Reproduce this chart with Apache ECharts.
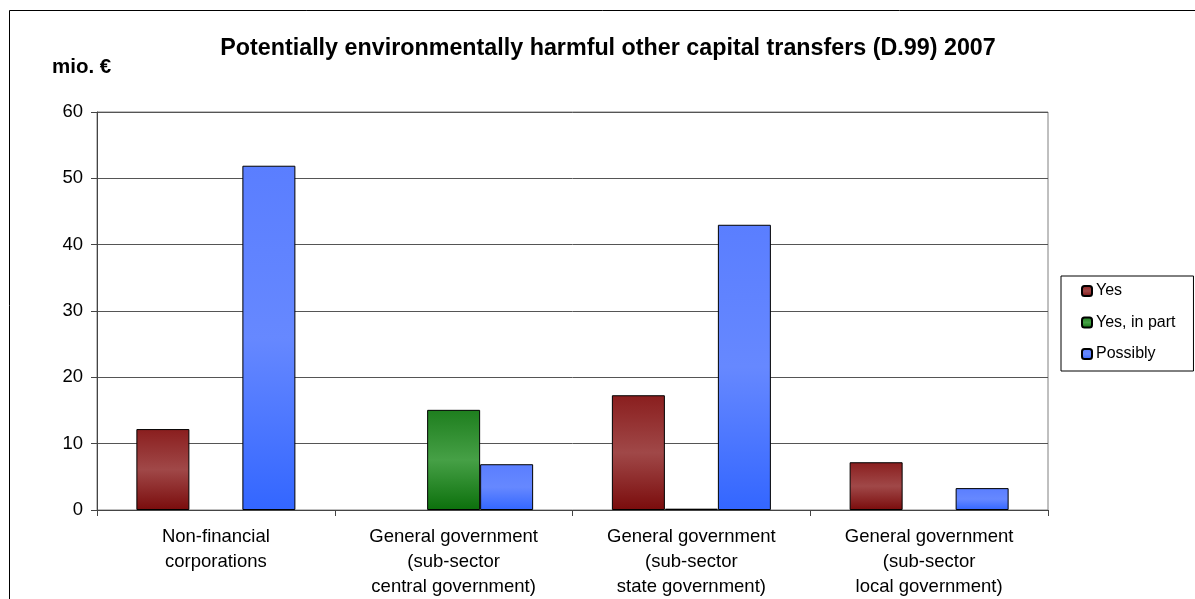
<!DOCTYPE html>
<html>
<head>
<meta charset="utf-8">
<script src="https://cdn.jsdelivr.net/npm/echarts@6/dist/echarts.min.js"></script>
<style>html,body{margin:0;padding:0;background:#fff;}#c{width:1195px;height:599px;}</style>
</head>
<body>
<div id="c"></div>
<script>
var categories = ['Non-financial\ncorporations', 'General government\n(sub-sector\ncentral government)', 'General government\n(sub-sector\nstate government)', 'General government\n(sub-sector\nlocal government)'];
var yesValues = [12.2, null, 17.3, 7.2];
var yesInPartValues = [null, 15.1, 0.2, null];
var possiblyValues = [51.9, 6.9, 43.0, 3.3];
var yTicks = { min: 0, max: 60, interval: 10 };

function grad(edgeTop, mid, edgeBottom) {
  return new echarts.graphic.LinearGradient(0, 0, 0, 1, [
    { offset: 0, color: edgeTop },
    { offset: 0.5, color: mid },
    { offset: 1, color: edgeBottom }
  ]);
}
var font = 'Liberation Sans, Arial, sans-serif';
var chart = echarts.init(document.getElementById('c'), null, { renderer: 'canvas' });
var barBase = { type: 'bar', barWidth: 53, barGap: '0%', animation: false };
chart.setOption({
  backgroundColor: '#fff',
  textStyle: { fontFamily: font },
  title: {
    text: 'Potentially environmentally harmful other capital transfers (D.99) 2007',
    left: 603, top: 32, textAlign: 'center',
    textStyle: { fontFamily: font, fontSize: 23.3, fontWeight: 'bold', color: '#000' }
  },
  graphic: [
    { type: 'rect', shape: { x: 9.5, y: 10.5, width: 1300, height: 700 }, style: { fill: null, stroke: '#000', lineWidth: 1 }, silent: true },
    { type: 'text', left: 52, top: 57, style: { text: 'mio. €', font: 'bold 20.5px ' + font, fill: '#000' } }
  ],
  legend: {
    orient: 'vertical', left: 1061, top: 276,
    padding: [7, 18, 9, 20],
    borderColor: '#000', borderWidth: 1,
    itemWidth: 10, itemHeight: 10, itemGap: 15.5,
    textStyle: { fontFamily: font, fontSize: 16, color: '#000', padding: [0, 0, 0, -1] },
    data: ['Yes', 'Yes, in part', 'Possibly']
  },
  grid: { left: 97, right: 147, top: 112, bottom: 89, show: true, borderColor: '#808080', borderWidth: 1 },
  xAxis: {
    type: 'category', data: categories,
    axisLine: { show: true, lineStyle: { color: '#444', width: 1 } },
    axisTick: { show: true, length: 6, lineStyle: { color: '#444' } },
    axisLabel: { fontFamily: font, fontSize: 18.5, color: '#000', lineHeight: 25, margin: 14 }
  },
  yAxis: {
    type: 'value', min: yTicks.min, max: yTicks.max, interval: yTicks.interval,
    axisLine: { show: true, lineStyle: { color: '#444', width: 1 } },
    axisTick: { show: true, length: 6, lineStyle: { color: '#444' } },
    axisLabel: { fontFamily: font, fontSize: 18.5, color: '#000', margin: 14 },
    splitLine: { show: true, lineStyle: { color: '#555', width: 1 } }
  },
  series: [
    Object.assign({}, barBase, { name: 'Yes', data: yesValues,
      itemStyle: { color: grad('#8a1e1e', '#a04848', '#7a0c0c'), borderColor: '#000', borderWidth: 1 } }),
    Object.assign({}, barBase, { name: 'Yes, in part', data: yesInPartValues,
      itemStyle: { color: grad('#1e7e1e', '#46a046', '#0c700c'), borderColor: '#000', borderWidth: 1 } }),
    Object.assign({}, barBase, { name: 'Possibly', data: possiblyValues,
      itemStyle: { color: grad('#5a7eff', '#6688ff', '#3366ff'), borderColor: '#000', borderWidth: 1 } })
  ]
});
</script>
</body>
</html>
